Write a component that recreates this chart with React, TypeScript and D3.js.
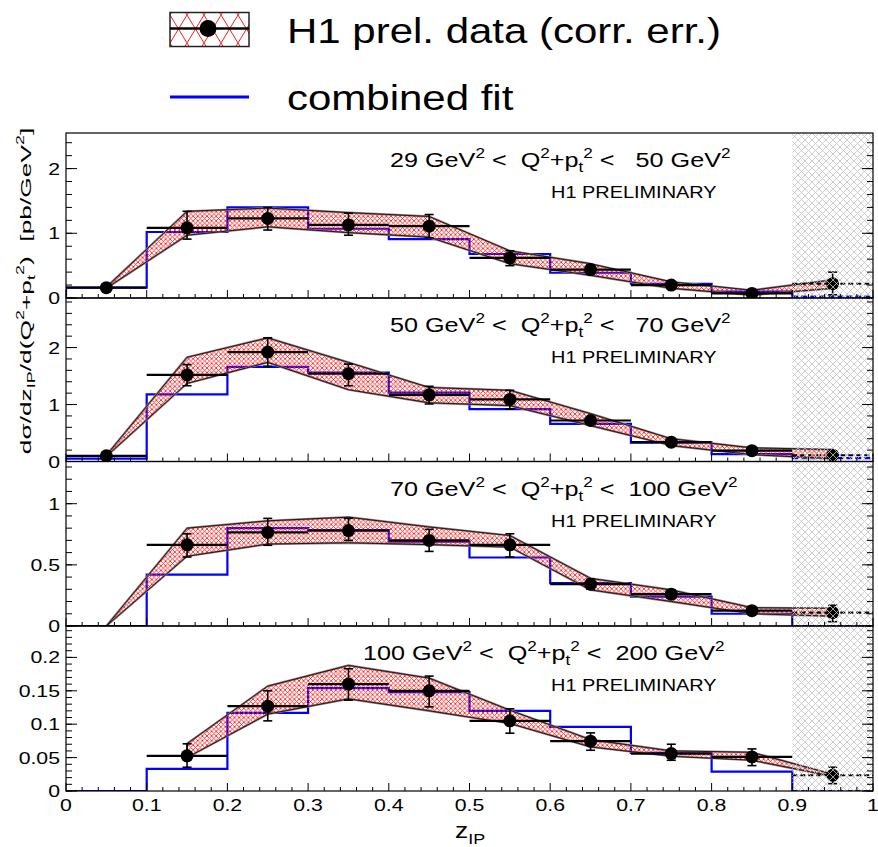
import React from 'react';
import * as d3 from 'd3';

// ---- binning in z_IP ----
const binEdges = [0, 0.1, 0.2, 0.3, 0.4, 0.5, 0.6, 0.7, 0.8, 0.9, 1.0];
const binCenters = [0.05, 0.15, 0.25, 0.35, 0.45, 0.55, 0.65, 0.75, 0.85, 0.95];
const xTickValues = [0, 0.1, 0.2, 0.3, 0.4, 0.5, 0.6, 0.7, 0.8, 0.9, 1];
const xTickLabels = ['0', '0.1', '0.2', '0.3', '0.4', '0.5', '0.6', '0.7', '0.8', '0.9', '1'];
const excludedRegion = [0.9, 1.0];

// ---- panel titles and axis ranges ----
const rangeLabels = [
  '29 GeV^{2} <  Q^{2}+p_{t}^{2} <   50 GeV^{2}',
  '50 GeV^{2} <  Q^{2}+p_{t}^{2} <   70 GeV^{2}',
  '70 GeV^{2} <  Q^{2}+p_{t}^{2} <  100 GeV^{2}',
  '100 GeV^{2} <  Q^{2}+p_{t}^{2} <  200 GeV^{2}',
];
const yMaxes = [2.55, 2.87, 1.345, 0.247];
const yMajorTicks = [
  [0, 1, 2],
  [0, 1, 2],
  [0, 0.5, 1],
  [0, 0.05, 0.1, 0.15, 0.2],
];
const yMajorLabels = [
  ['0', '1', '2'],
  ['0', '1', '2'],
  ['0', '0.5', '1'],
  ['0', '0.05', '0.1', '0.15', '0.2'],
];
const yMinorSteps = [0.2, 0.2, 0.1, 0.01];

// ---- 29 < Q2+pt2 < 50 GeV2 ----
const p1Value = [0.16, 1.085, 1.23, 1.13, 1.11, 0.62, 0.44, 0.2, 0.07, 0.22];
const p1ErrUp = [0.02, 0.255, 0.17, 0.18, 0.18, 0.11, 0.07, 0.03, 0.03, 0.18];
const p1ErrDn = [0.02, 0.175, 0.18, 0.16, 0.18, 0.12, 0.07, 0.03, 0.03, 0.17];
const p1BandHi = [0.17, 1.34, 1.39, 1.32, 1.26, 0.73, 0.53, 0.25, 0.12, 0.28];
const p1BandLo = [0.15, 0.97, 1.1, 1.01, 0.94, 0.53, 0.35, 0.15, 0.045, 0.15];
const p1Fit = [0.16, 1.02, 1.4, 1.07, 0.91, 0.68, 0.39, 0.22, 0.1, 0.02];

// ---- 50 < Q2+pt2 < 70 GeV2 ----
const p2Value = [0.1, 1.52, 1.92, 1.54, 1.17, 1.09, 0.72, 0.34, 0.19, 0.11];
const p2ErrUp = [0.02, 0.18, 0.25, 0.17, 0.15, 0.16, 0.06, 0.04, 0.04, 0.08];
const p2ErrDn = [0.02, 0.19, 0.25, 0.21, 0.16, 0.17, 0.06, 0.04, 0.04, 0.07];
const p2BandHi = [0.11, 1.83, 2.17, 1.74, 1.3, 1.25, 0.84, 0.4, 0.24, 0.21];
const p2BandLo = [0.09, 1.37, 1.74, 1.26, 1.03, 0.98, 0.63, 0.28, 0.12, 0.05];
const p2Fit = [0.05, 1.18, 1.66, 1.56, 1.21, 0.92, 0.66, 0.33, 0.13, 0.06];

// ---- 70 < Q2+pt2 < 100 GeV2 ----
const p3Value = [0, 0.664, 0.765, 0.78, 0.7, 0.664, 0.342, 0.26, 0.125, 0.11];
const p3ErrUp = [0, 0.09, 0.115, 0.1, 0.09, 0.09, 0.04, 0.035, 0.02, 0.06];
const p3ErrDn = [0, 0.1, 0.105, 0.08, 0.09, 0.1, 0.04, 0.035, 0.02, 0.075];
const p3BandHi = [0, 0.8, 0.86, 0.89, 0.81, 0.74, 0.39, 0.295, 0.15, 0.145];
const p3BandLo = [0, 0.57, 0.67, 0.68, 0.665, 0.645, 0.295, 0.2, 0.1, 0.08];
const p3Fit = [0, 0.42, 0.8, 0.785, 0.69, 0.56, 0.35, 0.24, 0.1, 0];

// ---- 100 < Q2+pt2 < 200 GeV2 (first bin empty) ----
const p4Value = [null, 0.0526, 0.127, 0.16, 0.15, 0.105, 0.0746, 0.056, 0.051, 0.0236];
const p4ErrUp = [null, 0.018, 0.023, 0.023, 0.022, 0.018, 0.0124, 0.014, 0.012, 0.012];
const p4ErrDn = [null, 0.017, 0.022, 0.024, 0.024, 0.0185, 0.0136, 0.01, 0.013, 0.0126];
const p4BandHi = [null, 0.071, 0.157, 0.188, 0.169, 0.121, 0.077, 0.06, 0.058, 0.025];
const p4BandLo = [null, 0.05, 0.115, 0.138, 0.12, 0.101, 0.066, 0.052, 0.046, 0.022];
const p4Fit = [0, 0.033, 0.117, 0.154, 0.148, 0.12, 0.096, 0.057, 0.029, 0];

const panels = [
  { value: p1Value, errUp: p1ErrUp, errDn: p1ErrDn, bandHi: p1BandHi, bandLo: p1BandLo, fit: p1Fit },
  { value: p2Value, errUp: p2ErrUp, errDn: p2ErrDn, bandHi: p2BandHi, bandLo: p2BandLo, fit: p2Fit },
  { value: p3Value, errUp: p3ErrUp, errDn: p3ErrDn, bandHi: p3BandHi, bandLo: p3BandLo, fit: p3Fit },
  { value: p4Value, errUp: p4ErrUp, errDn: p4ErrDn, bandHi: p4BandHi, bandLo: p4BandLo, fit: p4Fit },
];

// ---- layout ----
const W = 878;
const H = 847;
const PLOT_LEFT = 66;
const PLOT_RIGHT = 873;
const panelEdges = [133, 298, 461.5, 626, 791];
const labelX = [390, 390, 390, 363];
const FONT = '"Liberation Sans", Arial, Helvetica, sans-serif';
const STRETCH = 1.2;
const FIT_BLUE = '#0000ff';

const x = d3.scaleLinear().domain([0, 1]).range([PLOT_LEFT, PLOT_RIGHT]);

// Render a string with ^{..} superscripts and _{..} subscripts as tspans.
function rich(text: string, fs: number) {
  const segs: { t: string; k: string }[] = [];
  const re = /([\^_])\{([^}]*)\}/g;
  let last = 0;
  let m: RegExpExecArray | null;
  while ((m = re.exec(text))) {
    if (m.index > last) segs.push({ t: text.slice(last, m.index), k: '' });
    segs.push({ t: m[2], k: m[1] });
    last = re.lastIndex;
  }
  if (last < text.length) segs.push({ t: text.slice(last), k: '' });
  let cur = 0;
  const small = fs * 0.68;
  return segs.map((s, i) => {
    const target = s.k === '^' ? -0.42 * fs : s.k === '_' ? 0.25 * fs : 0;
    const dy = target - cur;
    cur = target;
    return (
      <tspan key={i} dy={dy} fontSize={s.k ? small : fs}>
        {s.t}
      </tspan>
    );
  });
}

function StretchText({ x0, y0, fs, anchor = 'start', sx = STRETCH, children }: any) {
  return (
    <g transform={`translate(${x0},${y0}) scale(${sx},1)`}>
      <text x={0} y={0} fontSize={fs} textAnchor={anchor} fontFamily={FONT} fill="#000" style={{ whiteSpace: 'pre' }}>
        {children}
      </text>
    </g>
  );
}

function Panel({ idx }: { idx: number }) {
  const p = panels[idx];
  const top = panelEdges[idx];
  const bottom = panelEdges[idx + 1];
  const y = d3.scaleLinear().domain([0, yMaxes[idx]]).range([bottom, top]);
  const clipId = `clip-${idx}`;

  const pts = binCenters
    .map((z, i) => ({ z, v: p.value[i], hi: p.bandHi[i], lo: p.bandLo[i], up: p.errUp[i], dn: p.errDn[i], i }))
    .filter((d) => d.v !== null) as any[];

  const band = d3
    .area<any>()
    .x((d) => x(d.z))
    .y0((d) => y(d.lo))
    .y1((d) => y(d.hi));

  const fitPts = [{ e: 0, v: 0 }, ...binEdges.slice(0, 10).map((e, i) => ({ e, v: p.fit[i] }))];
  const fitLine = d3
    .line<any>()
    .x((d) => x(d.e))
    .y((d) => y(d.v))
    .curve(d3.curveStepAfter);
  const lastFit = p.fit[9];

  const minorX = d3.range(0, 1.0001, 0.02);
  const minorY = d3.range(0, yMaxes[idx] + 1e-9, yMinorSteps[idx]);

  return (
    <g>
      <defs>
        <clipPath id={clipId}>
          <rect x={PLOT_LEFT} y={top} width={PLOT_RIGHT - PLOT_LEFT} height={bottom - top} />
        </clipPath>
      </defs>
      <g clipPath={`url(#${clipId})`}>
        {/* combined fit histogram */}
        <path d={fitLine(fitPts) as string} fill="none" stroke={FIT_BLUE} strokeWidth={2.2} />
        <line x1={x(0.9)} x2={x(1)} y1={y(lastFit)} y2={y(lastFit)} stroke={FIT_BLUE} strokeWidth={2.2} strokeDasharray="6,3" />

        {/* correlated error band */}
        <path d={band(pts) as string} fill="none" stroke="#888" strokeWidth={2.2} strokeLinejoin="round" />
        <path d={band(pts) as string} fill="url(#redHatch)" stroke="#000" strokeWidth={0.8} strokeLinejoin="round" />

        {/* data: bin widths, error bars, markers */}
        {pts.map((d) => {
          const last = d.i === 9;
          return (
            <g key={d.i}>
              <line
                x1={x(binEdges[d.i])}
                x2={x(binEdges[d.i + 1])}
                y1={y(d.v)}
                y2={y(d.v)}
                stroke="#000"
                strokeWidth={2.2}
                strokeDasharray={last ? '5,3' : undefined}
              />
              {d.v > 0 && (
                <g stroke="#000" strokeWidth={1.6}>
                  <line x1={x(d.z)} x2={x(d.z)} y1={y(d.v + d.up)} y2={y(d.v - d.dn)} />
                  <line x1={x(d.z) - 4.5} x2={x(d.z) + 4.5} y1={y(d.v + d.up)} y2={y(d.v + d.up)} />
                  <line x1={x(d.z) - 4.5} x2={x(d.z) + 4.5} y1={y(d.v - d.dn)} y2={y(d.v - d.dn)} />
                </g>
              )}
              {d.v > 0 && <circle cx={x(d.z)} cy={y(d.v)} r={6.5} fill="#000" />}
            </g>
          );
        })}

        {/* region outside the measurement */}
        <rect
          x={x(excludedRegion[0])}
          y={top}
          width={x(excludedRegion[1]) - x(excludedRegion[0])}
          height={bottom - top}
          fill="url(#grayHatch)"
        />
      </g>

      {/* frame */}
      <rect x={PLOT_LEFT} y={top} width={PLOT_RIGHT - PLOT_LEFT} height={bottom - top} fill="none" stroke="#000" strokeWidth={1.2} />

      {/* x ticks */}
      {minorX.map((v, i) => {
        const major = Math.abs(v * 10 - Math.round(v * 10)) < 1e-6;
        return <line key={i} x1={x(v)} x2={x(v)} y1={bottom} y2={bottom - (major ? 8 : 4)} stroke="#000" strokeWidth={1} />;
      })}

      {/* y ticks, both sides */}
      {minorY.map((v, i) => (
        <g key={i} stroke="#000" strokeWidth={1}>
          <line x1={PLOT_LEFT} x2={PLOT_LEFT + 6} y1={y(v)} y2={y(v)} />
          <line x1={PLOT_RIGHT} x2={PLOT_RIGHT - 6} y1={y(v)} y2={y(v)} />
        </g>
      ))}
      {yMajorTicks[idx].map((v, i) => (
        <g key={i} stroke="#000" strokeWidth={1}>
          <line x1={PLOT_LEFT} x2={PLOT_LEFT + 11} y1={y(v)} y2={y(v)} />
          <line x1={PLOT_RIGHT} x2={PLOT_RIGHT - 11} y1={y(v)} y2={y(v)} />
        </g>
      ))}
      {yMajorTicks[idx].map((v, i) => (
        <StretchText key={i} x0={60} y0={y(v) + 6} fs={17} anchor="end" sx={1.25}>
          {yMajorLabels[idx][i]}
        </StretchText>
      ))}

      {/* panel title */}
      <StretchText x0={labelX[idx]} y0={top + 34} fs={21}>
        {rich(rangeLabels[idx], 21)}
      </StretchText>
      <StretchText x0={551} y0={top + 65} fs={16.6}>
        H1 PRELIMINARY
      </StretchText>
    </g>
  );
}

export default function App() {
  const bottom = panelEdges[4];
  return (
    <svg width={W} height={H} style={{ position: 'absolute', left: 0, top: 0, background: '#fff' }}>
      <defs>
        <pattern id="redHatch" patternUnits="userSpaceOnUse" width={4.6} height={4.6}>
          <path d="M0,0 L4.6,4.6 M4.6,0 L0,4.6" stroke="#ff1a1a" strokeWidth={0.85} />
        </pattern>
        <pattern id="redHatchBig" patternUnits="userSpaceOnUse" width={17} height={28} x={170} y={15}>
          <path d="M0,0 L17,28 M17,0 L0,28" stroke="#ff1a1a" strokeWidth={1} />
        </pattern>
        <pattern id="grayHatch" patternUnits="userSpaceOnUse" width={7} height={7}>
          <path d="M0,0 L7,7 M7,0 L0,7" stroke="#c2c2c2" strokeWidth={0.8} />
        </pattern>
      </defs>
      <rect x={0} y={0} width={W} height={H} fill="#fff" />

      {/* legend */}
      <rect x={170} y={12.5} width={79} height={34} fill="url(#redHatchBig)" stroke="#222" strokeWidth={1.5} />
      <line x1={170} x2={249} y1={28.5} y2={28.5} stroke="#000" strokeWidth={2.5} />
      <circle cx={208} cy={28.5} r={8.5} fill="#000" />
      <StretchText x0={287} y0={43} fs={35}>
        H1 prel. data (corr. err.)
      </StretchText>
      <line x1={170} x2={249} y1={97} y2={97} stroke={FIT_BLUE} strokeWidth={3} />
      <StretchText x0={287} y0={110} fs={35}>
        combined fit
      </StretchText>

      {panels.map((_, i) => (
        <Panel key={i} idx={i} />
      ))}

      {/* x tick labels */}
      {xTickValues.map((v, i) => (
        <StretchText key={i} x0={x(v)} y0={bottom + 20} fs={17} anchor="middle" sx={1.25}>
          {xTickLabels[i]}
        </StretchText>
      ))}

      {/* axis titles */}
      <StretchText x0={455} y0={838} fs={22}>
        {rich('z_{IP}', 22)}
      </StretchText>
      <g transform={`translate(31,291) rotate(-90) scale(1.7,1)`}>
        <text x={0} y={0} fontSize={15.5} textAnchor="middle" fontFamily={FONT} style={{ whiteSpace: 'pre' }}>
          {rich('dσ/dz_{IP}/d(Q^{2}+p_{t}^{2})  [pb/GeV^{2}]', 15.5)}
        </text>
      </g>
    </svg>
  );
}
